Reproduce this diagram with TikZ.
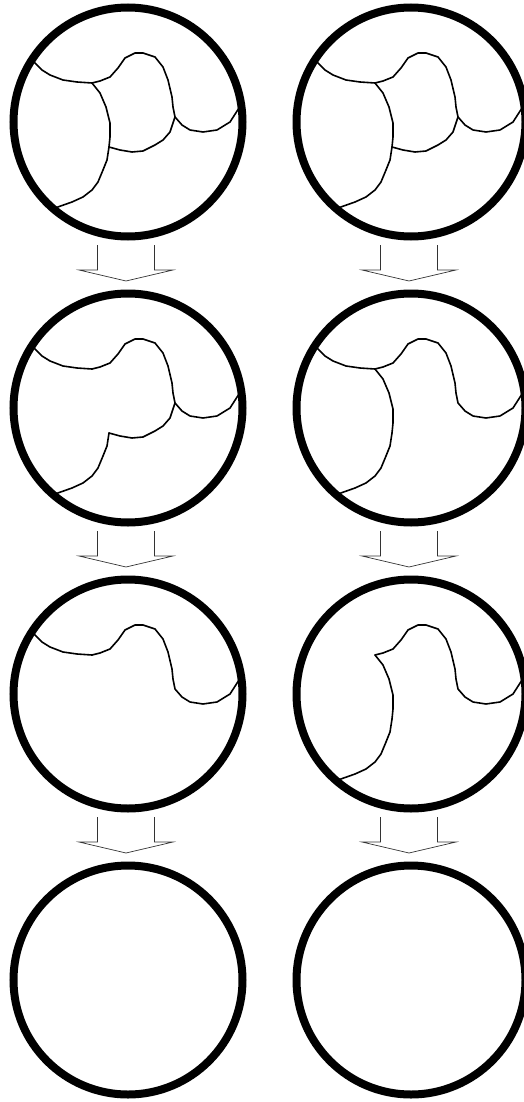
\documentclass[tikz,border=0pt]{standalone}
\usepackage{tikz}
\usetikzlibrary{positioning,backgrounds}

\begin{document}
\begin{tikzpicture}[
    x=1pt, y=1pt,
    ring/.style={draw, circle, line width=8pt, minimum size=229pt, inner sep=0pt},
    crack/.style={line width=1.6pt, line join=round, line cap=round},
    flow/.style={draw=black!80, line width=0.7pt, fill=white},
    crackAone/.pic={\draw[crack] (-95,61) -- (-86,52) -- (-78,47) -- (-65,42) -- (-51,40) -- (-36,39);},
    crackAtwo/.pic={\draw[crack] (-36,39) -- (-28,41) -- (-18,45) -- (-10,54) -- (-3,64) -- (7,69) -- (15,69) -- (27,65) -- (35,55) -- (40,42) -- (44,25) -- (45,15) -- (47,5) -- (54,-3) -- (62,-8) -- (75,-10) -- (89,-8) -- (102,0) -- (112,15.5);},
    crackBone/.pic={\draw[crack] (-36,39) -- (-28,29) -- (-22,15) -- (-18,-1) -- (-18,-15) -- (-19,-25);},
    crackBtwo/.pic={\draw[crack] (-19,-25) -- (-21,-38) -- (-25,-48) -- (-30,-60) -- (-36,-68) -- (-45,-75) -- (-56,-80) -- (-73,-86);},
    crackC/.pic={\draw[crack] (-19,-25) -- (-8,-28) -- (4,-30) -- (15,-29) -- (27,-23) -- (35,-18) -- (42,-10) -- (47,5);},
    flowdown/.pic={\draw[flow] (-30.5,-123) -- (-30.5,-148) -- (-49,-148) -- (-2,-159) -- (45,-148) -- (26.5,-148) -- (26.5,-123);}
]
\useasboundingbox (0,0) rectangle (523,-1102);

% the grains, left and right column
\node[ring] (l1) at (128,-122) {};
\node[ring, right=46pt of l1] (r1) {};
\node[ring, below=49pt of l1] (l2) {};
\node[ring, below=49pt of r1] (r2) {};
\node[ring, below=49pt of l2] (l3) {};
\node[ring, below=49pt of r2] (r3) {};
\node[ring, below=49pt of l3] (l4) {};
\node[ring, below=49pt of r3] (r4) {};

% boundaries inside the grains
\begin{scope}[on background layer]
  \foreach \g in {l1,r1,l2,r2,l3} {\pic at (\g) {crackAone};}
  \foreach \g in {l1,r1,l2,r2,l3,r3} {\pic at (\g) {crackAtwo};}
  \foreach \g in {l1,r1,r2,r3} {\pic at (\g) {crackBone};}
  \foreach \g in {l1,r1,l2,r2,r3} {\pic at (\g) {crackBtwo};}
  \foreach \g in {l1,r1,l2} {\pic at (\g) {crackC};}
\end{scope}

% steps
\foreach \g in {l1,l2,l3,r1,r2,r3} {\pic at (\g) {flowdown};}
\end{tikzpicture}
\end{document}
